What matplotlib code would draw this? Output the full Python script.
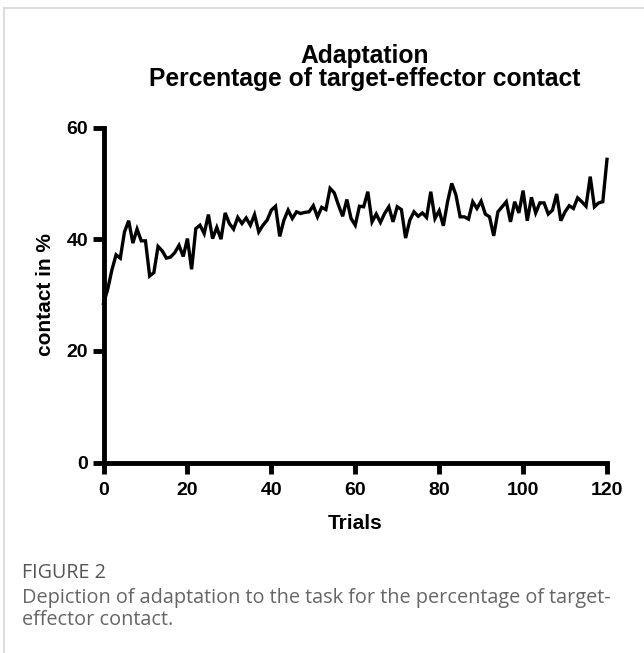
import matplotlib
matplotlib.use("Agg")
import matplotlib.pyplot as plt
from matplotlib.lines import Line2D

# data
trials = list(range(121))
contact = [
    28.5, 31.0, 34.5, 37.2, 36.6, 41.3, 43.3, 39.3, 41.8, 39.7,
    39.7, 33.4, 34.0, 38.7, 37.9, 36.6, 36.8, 37.6, 38.9, 36.9,
    40.1, 34.6, 41.9, 42.5, 41.0, 44.4, 40.1, 42.1, 40.0, 44.7,
    42.8, 41.8, 43.9, 42.8, 43.8, 42.5, 44.4, 41.3, 42.5, 43.4,
    45.2, 45.9, 40.5, 43.4, 45.2, 43.7, 44.9, 44.6, 44.8, 44.9,
    46.0, 44.0, 45.7, 45.3, 49.1, 48.3, 46.1, 44.1, 47.1, 43.7,
    42.5, 45.9, 45.8, 48.5, 43.1, 44.5, 43.0, 44.6, 45.8, 43.1,
    45.8, 45.3, 40.2, 43.4, 44.9, 44.1, 44.7, 43.9, 48.5, 43.7,
    45.1, 42.4, 46.7, 50.0, 47.9, 44.0, 44.0, 43.6, 46.7, 45.5,
    46.8, 44.5, 44.0, 40.6, 44.9, 45.8, 46.7, 43.1, 46.7, 44.7,
    48.7, 43.3, 47.5, 44.7, 46.5, 46.5, 44.5, 45.2, 48.1, 43.3,
    44.9, 46.0, 45.5, 47.4, 46.7, 45.9, 51.2, 45.8, 46.5, 46.7,
    54.3,
]
xticks = [0, 20, 40, 60, 80, 100, 120]
yticks = [0, 20, 40, 60]

title1 = "Adaptation"
title2 = "Percentage of target-effector contact"
fig_label = "FIGURE 2"
caption1 = "Depiction of adaptation to the task for the percentage of target-"
caption2 = "effector contact."

W, H = 644, 653
fig = plt.figure(figsize=(W / 100, H / 100), dpi=100)
ax = fig.add_axes([103.5 / W, 1 - 462.5 / H, (607 - 103.5) / W, (462.5 - 127.5) / H])

ax.plot(trials, contact, color="black", linewidth=2.4, solid_joinstyle="miter",
        clip_on=False)

ax.set_xlim(0, 120)
ax.set_ylim(0, 60)
ax.set_xticks(xticks)
ax.set_yticks(yticks)
for s in ["top", "right"]:
    ax.spines[s].set_visible(False)
for s in ["left", "bottom"]:
    ax.spines[s].set_linewidth(3.5)
    ax.spines[s].set_capstyle("projecting")
ax.tick_params(direction="out", length=8, width=3.5, pad=3)
ax.tick_params(axis="x", pad=6)

bold = dict(family="Liberation Sans", weight="bold")
for lab in ax.get_xticklabels() + ax.get_yticklabels():
    lab.set_fontfamily("Liberation Sans")
    lab.set_fontweight("bold")
    lab.set_fontsize(14)

ax.set_xlabel("Trials", fontsize=15, labelpad=11, **bold)
ax.set_ylabel("contact in %", fontsize=15, labelpad=8, **bold)

fig.text(365 / W, 1 - 56 / H, title1, ha="center", va="center", fontsize=17.7, **bold)
fig.text(365 / W, 1 - 79 / H, title2, ha="center", va="center", fontsize=17.7, **bold)

fig.text(22 / W, 1 - 573 / H, fig_label, ha="left", va="center",
         fontsize=14.2, color="#555555", family="Open Sans")
fig.text(22 / W, 1 - 598 / H, caption1, ha="left", va="center",
         fontsize=14.3, color="#666666", family="Open Sans")
fig.text(22 / W, 1 - 620 / H, caption2, ha="left", va="center",
         fontsize=14.3, color="#666666", family="Open Sans")

# light frame around the figure panel
fig.add_artist(Line2D([4 / W, 1], [1 - 8 / H, 1 - 8 / H], color="#d5d5d5", linewidth=1.2))
fig.add_artist(Line2D([4 / W, 4 / W], [0, 1 - 8 / H], color="#d5d5d5", linewidth=1.2))

fig.savefig("out.png", dpi=100)
